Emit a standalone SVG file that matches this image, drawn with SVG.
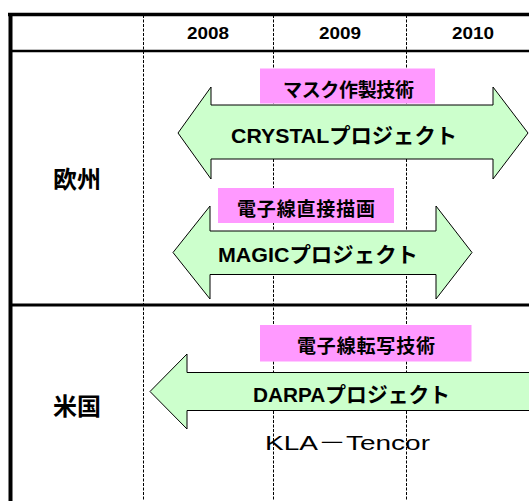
<svg xmlns="http://www.w3.org/2000/svg" width="529" height="501" viewBox="0 0 529 501">
<style>
.grid{stroke:#000;stroke-width:1;stroke-dasharray:3 1.5;fill:none}
.frame{stroke:#000;fill:none}
.arrow{fill:#ccffcc;stroke:#000;stroke-width:1}
.pink{fill:#ff99ff;stroke:none}
.b{font-family:"Liberation Sans","Noto Sans CJK JP",sans-serif;font-weight:bold;fill:#000;text-anchor:middle}
.n{font-family:"Liberation Sans","Noto Sans CJK JP",sans-serif;font-weight:normal;fill:#000;text-anchor:middle}
</style>
<rect x="0" y="0" width="529" height="501" fill="#fff"/>
<g id="grid">
<line class="grid" x1="143.5" y1="15" x2="143.5" y2="501"/>
<line class="grid" x1="273.5" y1="15" x2="273.5" y2="501"/>
<line class="grid" x1="406.5" y1="15" x2="406.5" y2="501"/>
<line class="frame" x1="8" y1="14.5" x2="529" y2="14.5" stroke-width="3.5"/>
<line class="frame" x1="10.5" y1="13" x2="10.5" y2="501" stroke-width="4"/>
<line class="frame" x1="10" y1="51" x2="529" y2="51" stroke-width="2.3"/>
<line class="frame" x1="10" y1="305" x2="529" y2="305" stroke-width="3"/>
</g>
<g id="header">
<text class="b" x="208" y="38.5" font-size="16" textLength="42" lengthAdjust="spacingAndGlyphs">2008</text>
<text class="b" x="340" y="38.5" font-size="16" textLength="42" lengthAdjust="spacingAndGlyphs">2009</text>
<text class="b" x="473" y="38.5" font-size="16" textLength="42" lengthAdjust="spacingAndGlyphs">2010</text>
</g>
<g id="row-europe">
<text class="b" x="77" y="188" font-size="24">欧州</text>
</g>
<g id="row-us">
<text class="b" x="77" y="415" font-size="24">米国</text>
</g>
<g id="crystal">
<path class="arrow" d="M178,133 L211,87 L211,105 L493,105 L493,87 L528,133 L493,179 L493,159 L211,159 L211,179 Z"/>
<text class="b" x="344" y="142.5" font-size="21" textLength="226" lengthAdjust="spacingAndGlyphs">CRYSTALプロジェクト</text>
</g>
<g id="mask-tech">
<rect class="pink" x="260" y="68.5" width="175" height="35"/>
<text class="b" x="348.5" y="97" font-size="19" textLength="131">マスク作製技術</text>
</g>
<g id="magic">
<path class="arrow" d="M173,252.5 L210,206 L210,231 L436,231 L436,206 L472,252.5 L436,299 L436,274.5 L210,274.5 L210,299 Z"/>
<text class="b" x="318" y="262" font-size="21" textLength="200" lengthAdjust="spacingAndGlyphs">MAGICプロジェクト</text>
</g>
<g id="ebdw">
<rect class="pink" x="218" y="188" width="176" height="35"/>
<text class="b" x="306" y="216" font-size="19" textLength="138">電子線直接描画</text>
</g>
<g id="darpa">
<path class="arrow" d="M150,391.5 L187,354 L187,372.5 L540,372.5 L540,410.5 L187,410.5 L187,429 Z"/>
<text class="b" x="351.5" y="401.5" font-size="21" textLength="197" lengthAdjust="spacingAndGlyphs">DARPAプロジェクト</text>
</g>
<g id="ebpt">
<rect class="pink" x="260" y="325" width="211.5" height="36.5"/>
<text class="b" x="366" y="353" font-size="19" textLength="138">電子線転写技術</text>
</g>
<g id="kla">
<text class="n" x="347.5" y="450" font-size="20" textLength="165" lengthAdjust="spacingAndGlyphs">KLA－Tencor</text>
</g>
<g id="connectors"/>
</svg>
